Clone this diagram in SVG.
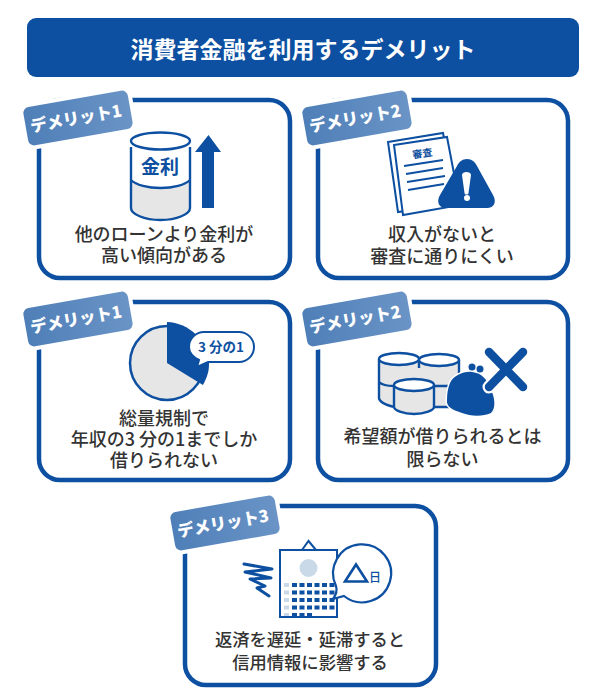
<svg xmlns="http://www.w3.org/2000/svg" width="600" height="700" viewBox="0 0 600 700">
<defs>
<linearGradient id="tg" x1="0" y1="0" x2="1" y2="0"><stop offset="0" stop-color="#4f7fb8"/><stop offset="1" stop-color="#6a94c6"/></linearGradient>
<g id="tag"><rect x="-53" y="-19.500" width="106" height="39" rx="6" fill="url(#tg)" stroke="#fff" stroke-width="8" paint-order="stroke"/></g>
</defs>
<style>
text{font-family:"Noto Sans CJK JP","Liberation Sans",sans-serif}
.card{fill:#fff;stroke:#0d4fa0;stroke-width:4.5}
.lab{font-size:18px;font-weight:500;fill:#333;text-anchor:middle}
.lab2{font-size:17.3px;font-weight:500;fill:#333;text-anchor:middle}
.tag{font-size:16.5px;font-weight:900;fill:#fff;text-anchor:middle}
.b{fill:none;stroke:#0d4fa0;stroke-width:2.4}
.bf{fill:#0d4fa0}
.g{fill:#e6e6e6}
.ln{stroke:#0d4fa0;stroke-width:2;fill:none}
</style>
<rect width="600" height="700" fill="#fff"/>
<g id="title"><rect x="27" y="18" width="552" height="59" rx="9" fill="#0d4fa0"/><text x="303" y="58" font-size="23" font-weight="700" fill="#fff" text-anchor="middle">消費者金融を利用するデメリット</text></g>

<g id="card1"><rect class="card" x="39" y="100" width="251" height="178" rx="21"/>
<g transform="translate(78,118) rotate(-10)"><use href="#tag"/><text class="tag" x="-2" y="6">デメリット1</text></g>
<path class="g" d="M131 180v28c0 5 13 12 29 12s29-7 29-12v-28c-6 5-17 8-29 8s-23-3-29-8z"/>
<path class="b" d="M131 147v61c0 6 13 12 29.500 12s29.500-6 29.500-12v-61M131 180c5 5 17 8 29.500 8s24.500-3 29.500-8"/>
<ellipse class="b" cx="160.500" cy="141" rx="29.500" ry="8.500"/>
<text x="160" y="174" font-size="19" font-weight="700" fill="#0d4fa0" text-anchor="middle">金利</text>
<path class="bf" d="M208.500 135l12.500 17h-7v56h-12v-56h-7z"/>
<text class="lab" x="164" y="241">他のローンより金利が</text><text class="lab" x="164" y="262">高い傾向がある</text></g>

<g id="card2"><rect class="card" x="318" y="100" width="250" height="178" rx="21"/>
<g transform="translate(357,118) rotate(-10)"><use href="#tag"/><text class="tag" x="-2" y="6">デメリット2</text></g>
<path d="M388 142l55-9 14 70-59 9z" fill="#fff" stroke="#0d4fa0" stroke-width="2"/>
<path d="M394 145l53-8 13 68-57 10z" fill="#fff" stroke="#0d4fa0" stroke-width="2"/>
<text transform="translate(423,157) rotate(-9)" font-size="10" font-weight="700" fill="#0d4fa0" text-anchor="middle">審査</text>
<path class="ln" d="M404 166l39-6M406 174l37-6M407 182l38-6M408 190l36-6"/>
<path class="bf" d="M467 159c5 0 8 3 10 7l16 29c4 7 1 13-6 13h-41c-7 0-10-6-6-13l17-29c2-4 5-7 10-7z"/>
<path d="M462 175c0-4 9-4 9 0l-2.500 18c0 2-4 2-4 0z" fill="#fff"/><circle cx="467" cy="198" r="3" fill="#fff"/>
<text class="lab" x="442" y="241">収入がないと</text><text class="lab" x="442" y="263">審査に通りにくい</text></g>

<g id="card3"><rect class="card" x="39" y="302" width="251" height="178" rx="21"/>
<g transform="translate(78,319) rotate(-10)"><use href="#tag"/><text class="tag" x="-2" y="6">デメリット1</text></g>
<circle cx="167" cy="363" r="37" fill="#e6e6e6" stroke="#0d4fa0" stroke-width="2.500"/>
<path class="bf" d="M167 363v-41c22 1 41 18 42 42 0 8-2 13-6 21l-5-3z"/>
<path d="M204 332h35a15 15 0 0 1 0 30h-31l-11 5 2-7c-6-3-10-8-10-13a15 15 0 0 1 15-15z" fill="#fff" stroke="#0d4fa0" stroke-width="2"/>
<text x="221" y="352" font-size="13.500" font-weight="700" fill="#0d4fa0" text-anchor="middle">3 分の1</text>
<text class="lab" x="164" y="425">総量規制で</text><text class="lab" x="164" y="446">年収の3 分の1までしか</text><text class="lab" x="164" y="467">借りられない</text></g>

<g id="card4"><rect class="card" x="318" y="302" width="250" height="178" rx="21"/>
<g transform="translate(357,319) rotate(-10)"><use href="#tag"/><text class="tag" x="-2" y="6">デメリット2</text></g>
<path class="g" d="M379 359v39c0 4 9 8 19 9l21-2v-46z"/>
<path class="b" d="M379 359v39c0 3 5 7 16 9M379 382c2 2 8 4 15 4"/>
<ellipse cx="399" cy="359" rx="20" ry="6" fill="#fff" stroke="#0d4fa0" stroke-width="2.400"/>
<path class="g" d="M419 360v47h40v-47z"/>
<path class="b" d="M419 360v8M459 360v22M432 407h22M432 386h26"/>
<ellipse cx="439" cy="360" rx="20" ry="6" fill="#fff" stroke="#0d4fa0" stroke-width="2.400"/>
<path class="g" d="M394 385v22c0 3 9 7 20 7s20-4 20-7v-22z"/>
<path class="b" d="M394 385v22c0 3 9 7 20 7s20-4 20-7v-22"/>
<ellipse cx="414" cy="385" rx="20" ry="6" fill="#fff" stroke="#0d4fa0" stroke-width="2.400"/>
<path class="bf" d="M450 383c4-8 14-12 22-11 10 1 16 8 19 18 4 8 5 18 0 23-9 4-21 3-29 0-9-3-16-6-15-13 0-7 1-12 3-17z" stroke="#fff" stroke-width="3" paint-order="stroke"/>
<circle cx="472" cy="367" r="3.500" class="bf"/><circle cx="480" cy="369" r="3.500" class="bf"/>
<path d="M489 352l34 35M523 352l-34 35" stroke="#fff" stroke-width="13" stroke-linecap="round"/>
<path d="M489 352l34 35M523 352l-34 35" stroke="#0d4fa0" stroke-width="8.500" stroke-linecap="round"/>
<text class="lab" x="442.500" y="443">希望額が借りられるとは</text><text class="lab" x="442.500" y="466">限らない</text></g>

<g id="card5"><rect class="card" x="185" y="506" width="251" height="179" rx="21"/>
<g transform="translate(225,523) rotate(-10)"><use href="#tag"/><text class="tag" x="-2" y="6">デメリット3</text></g>
<path d="M302 550l6.500-9 7.500 9" fill="none" stroke="#0d4fa0" stroke-width="2"/>
<rect x="280" y="550" width="57" height="67" fill="#fff" stroke="#0d4fa0" stroke-width="2"/>
<circle cx="308.500" cy="568" r="9" fill="#c9d9e8"/>
<path d="M244 564L272 569L245 572L271 578L250 579L265 586L257 588L269 596" fill="none" stroke="#0d4fa0" stroke-width="3" stroke-linecap="round" stroke-linejoin="round"/>
<path fill="#c9d9e8" d="M284 583h5v4h-5zM284 590.500h5v4h-5zM284 598h5v4h-5zM284 605.500h5v4h-5zM284 613h5v3h-5z"/>
<path class="bf" d="M292 583h5v4h-5zM299.500 583h5v4h-5zM307 583h5v4h-5zM314.500 583h5v4h-5zM322 583h5v4h-5zM329.500 583h5v4h-5zM292 590.500h5v4h-5zM299.500 590.500h5v4h-5zM307 590.500h5v4h-5zM314.500 590.500h5v4h-5zM322 590.500h5v4h-5zM329.500 590.500h5v4h-5zM292 598h5v4h-5zM299.500 598h5v4h-5zM307 598h5v4h-5zM314.500 598h5v4h-5zM322 598h5v4h-5zM329.500 598h5v4h-5zM292 605.500h5v4h-5zM299.500 605.500h5v4h-5zM307 605.500h5v4h-5zM314.500 605.500h5v4h-5zM322 605.500h5v4h-5zM329.500 605.500h5v4h-5zM292 613h5v3h-5zM299.500 613h5v3h-5zM307 613h5v3h-5z"/>
<path d="M336 586A29 29 0 1 1 344 596L333 599Q338 592 336 586z" fill="#fff" stroke="#0d4fa0" stroke-width="2.200"/>
<path d="M345 581.500l11-17 11 17z" fill="none" stroke="#0d4fa0" stroke-width="2.600"/>
<text x="375" y="582" font-size="12" font-weight="500" fill="#0d4fa0" text-anchor="middle">日</text>
<text class="lab2" x="310" y="646">返済を遅延・延滞すると</text><text class="lab2" x="310" y="669">信用情報に影響する</text></g>
</svg>
